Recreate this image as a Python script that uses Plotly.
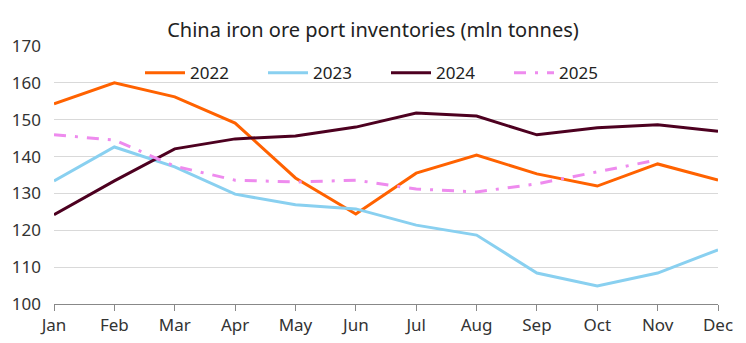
import plotly.graph_objects as go

months = ["Jan", "Feb", "Mar", "Apr", "May", "Jun", "Jul", "Aug", "Sep", "Oct", "Nov", "Dec"]
y2022 = [154.3, 160.0, 156.2, 149.1, 134.2, 124.4, 135.5, 140.4, 135.3, 132.0, 138.0, 133.6]
y2023 = [133.4, 142.6, 137.2, 129.8, 126.9, 125.8, 121.4, 118.7, 108.4, 104.9, 108.4, 114.7]
y2024 = [124.2, 133.4, 142.1, 144.8, 145.6, 148.0, 151.8, 151.0, 145.9, 147.8, 148.6, 146.9]
y2025 = [145.9, 144.5, 137.4, 133.6, 133.1, 133.6, 131.2, 130.4, 132.6, 135.8, 139.1]

FONT = "Noto Sans"
fig = go.Figure()
fig.add_trace(go.Scatter(x=months, y=y2022, name="2022", mode="lines",
                         line=dict(color="#FF6200", width=3)))
fig.add_trace(go.Scatter(x=months, y=y2023, name="2023", mode="lines",
                         line=dict(color="#89D0F0", width=3)))
fig.add_trace(go.Scatter(x=months, y=y2024, name="2024", mode="lines",
                         line=dict(color="#4D0020", width=3)))
fig.add_trace(go.Scatter(x=months[:len(y2025)], y=y2025, name="2025", mode="lines",
                         line=dict(color="#EE8BEE", width=3, dash="12px,9px,3px,9px")))

fig.update_layout(
    width=746, height=343,
    margin=dict(l=54, r=28, t=46, b=39),
    paper_bgcolor="white", plot_bgcolor="white",
    font=dict(family=FONT, size=17, color="#333333"),
    title=dict(text="China iron ore port inventories (mln tonnes)", x=0.5, xanchor="center",
               y=1 - 30 / 343, yanchor="middle", font=dict(size=20, color="#222222")),
    showlegend=True,
    legend=dict(orientation="h", x=0.5, xanchor="center", y=0.895, yanchor="middle",
                font=dict(size=17, color="#222222"), bgcolor="rgba(0,0,0,0)",
                itemwidth=40, entrywidth=68, entrywidthmode="pixels", tracegroupgap=0),
    xaxis=dict(type="category", range=[0, 11], showgrid=False, showline=True,
               linecolor="#888888", linewidth=1, ticks="outside", ticklen=6,
               tickcolor="#888888", tickfont=dict(size=17, color="#333333"),
               zeroline=False, automargin=False),
    yaxis=dict(range=[100, 170], dtick=10, showgrid=True, gridcolor="#D9D9D9",
               gridwidth=1, zeroline=False, showline=False, ticks="",
               ticklabelstandoff=12, automargin=False,
               tickfont=dict(size=17, color="#333333")),
)

fig.write_html("out.html")
